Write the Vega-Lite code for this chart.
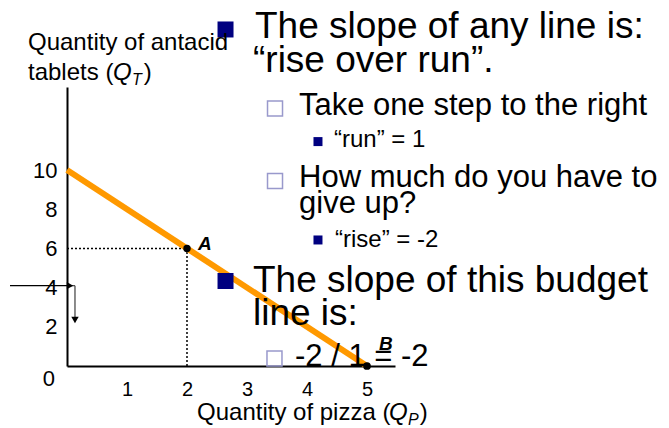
{
  "$schema": "https://vega.github.io/schema/vega-lite/v6.json",
  "width": 328,
  "height": 279,
  "autosize": {"type": "none"},
  "padding": {"left": 67, "top": 87, "right": 274, "bottom": 62},
  "background": "white",
  "config": {
    "view": {"stroke": null},
    "font": "Liberation Sans",
    "text": {"font": "Liberation Sans", "color": "black", "baseline": "alphabetic", "align": "left"}
  },
  "datasets": {
    "guides": [
      {"x": 0, "x2": 2, "y": 6, "y2": 6},
      {"x": 2, "x2": 2, "y": 0, "y2": 6}
    ],
    "budget": [
      {"x": 0, "y": 10},
      {"x": 5, "y": 0}
    ],
    "shiftArrow": [
      {"x": -0.95, "x2": 0.0, "y": 4.1, "y2": 4.1}
    ],
    "dropArrow": [
      {"x": 0.03, "x2": 0.133, "y": 4.1, "y2": 4.1},
      {"x": 0.133, "x2": 0.133, "y": 4.1, "y2": 2.5}
    ],
    "shiftHead": [{"x": 0.05, "y": 4.1}],
    "dropHead": [{"x": 0.133, "y": 2.35}],
    "bundleA": [{"x": 2, "y": 6, "label": "A"}],
    "bundleB": [{"x": 5, "y": 0, "label": "B"}],
    "bullets1": [
      {"x": 2.642, "y": 17.17},
      {"x": 2.642, "y": 4.337}
    ],
    "bullets2": [
      {"x": 3.467, "y": 13.14},
      {"x": 3.467, "y": 9.44},
      {"x": 3.458, "y": 0.383}
    ],
    "bullets3": [
      {"x": 4.183, "y": 11.45},
      {"x": 4.183, "y": 6.43}
    ],
    "text1": [
      {"x": 3.133, "y": 16.73, "t": "The slope of any line is:"},
      {"x": 3.1, "y": 15.0, "t": "“rise over run”."},
      {"x": 3.1, "y": 3.776, "t": "The slope of this budget"},
      {"x": 3.1, "y": 2.092, "t": "line is:"}
    ],
    "text2": [
      {"x": 3.867, "y": 12.81, "t": "Take one step to the right"},
      {"x": 3.867, "y": 9.133, "t": "How much do you have to"},
      {"x": 3.867, "y": 7.806, "t": "give up?"},
      {"x": 3.8, "y": 0.0, "t": "-2 / 1 = -2"}
    ],
    "text3": [
      {"x": 4.45, "y": 11.17, "t": "“run” = 1"},
      {"x": 4.467, "y": 6.07, "t": "“rise” = -2"}
    ],
    "titlePlain": [
      {"x": -0.65, "y": 16.12, "t": "Quantity of antacid"},
      {"x": -0.65, "y": 14.59, "t": "tablets ("},
      {"x": 1.28, "y": 14.59, "t": ")"},
      {"x": 2.167, "y": -2.755, "t": "Quantity of pizza ("},
      {"x": 5.88, "y": -2.755, "t": ")"}
    ],
    "titleQ": [
      {"x": 0.767, "y": 14.59, "t": "Q"},
      {"x": 5.367, "y": -2.755, "t": "Q"}
    ],
    "titleSub": [
      {"x": 1.083, "y": 14.34, "t": "T"},
      {"x": 5.683, "y": -3.0, "t": "P"}
    ],
    "origin": [{"x": 0, "y": 0, "t": "0"}]
  },
  "encoding": {
    "x": {
      "field": "x",
      "type": "quantitative",
      "scale": {"domain": [0, 5.4667], "nice": false},
      "axis": {
        "values": [1, 2, 3, 4, 5],
        "title": null,
        "grid": false,
        "ticks": false,
        "domainColor": "black",
        "domainWidth": 2,
        "labelColor": "black",
        "labelFont": "Liberation Sans",
        "labelFontSize": 20,
        "labelPadding": 13
      }
    },
    "y": {
      "field": "y",
      "type": "quantitative",
      "scale": {"domain": [0, 14.235], "nice": false},
      "axis": {
        "values": [2, 4, 6, 8, 10],
        "title": null,
        "grid": false,
        "ticks": false,
        "domainColor": "black",
        "domainWidth": 2,
        "labelColor": "black",
        "labelFont": "Liberation Sans",
        "labelFontSize": 22,
        "labelPadding": 10
      }
    }
  },
  "layer": [
    {
      "data": {"name": "guides"},
      "mark": {"type": "rule", "color": "black", "strokeWidth": 1.5, "strokeDash": [2, 2]},
      "encoding": {"x2": {"field": "x2"}, "y2": {"field": "y2"}}
    },
    {
      "data": {"name": "budget"},
      "mark": {"type": "line", "color": "#FF9900", "strokeWidth": 6, "strokeCap": "butt"},
      "encoding": {}
    },
    {
      "data": {"name": "shiftArrow"},
      "mark": {"type": "rule", "color": "black", "strokeWidth": 1.3},
      "encoding": {"x2": {"field": "x2"}, "y2": {"field": "y2"}}
    },
    {
      "data": {"name": "dropArrow"},
      "mark": {"type": "rule", "color": "#4d4d4d", "strokeWidth": 1.3},
      "encoding": {"x2": {"field": "x2"}, "y2": {"field": "y2"}}
    },
    {
      "data": {"name": "shiftHead"},
      "mark": {"type": "point", "shape": "triangle-right", "filled": true, "color": "black", "size": 55, "opacity": 1},
      "encoding": {}
    },
    {
      "data": {"name": "dropHead"},
      "mark": {"type": "point", "shape": "triangle-down", "filled": true, "color": "black", "size": 55, "opacity": 1},
      "encoding": {}
    },
    {
      "data": {"name": "bundleA"},
      "mark": {"type": "circle", "color": "black", "size": 55, "opacity": 1},
      "encoding": {}
    },
    {
      "data": {"name": "bundleB"},
      "mark": {"type": "circle", "color": "black", "size": 60, "opacity": 1},
      "encoding": {}
    },
    {
      "data": {"name": "bullets1"},
      "mark": {"type": "square", "color": "#000080", "size": 256, "opacity": 1},
      "encoding": {}
    },
    {
      "data": {"name": "bullets2"},
      "mark": {"type": "point", "shape": "square", "filled": false, "color": "#9999CC", "strokeWidth": 1.5, "size": 225, "opacity": 1},
      "encoding": {}
    },
    {
      "data": {"name": "bullets3"},
      "mark": {"type": "square", "color": "#000080", "size": 81, "opacity": 1},
      "encoding": {}
    },
    {
      "data": {"name": "text1"},
      "mark": {"type": "text", "fontSize": 37},
      "encoding": {"text": {"field": "t"}}
    },
    {
      "data": {"name": "text2"},
      "mark": {"type": "text", "fontSize": 31},
      "encoding": {"text": {"field": "t"}}
    },
    {
      "data": {"name": "text3"},
      "mark": {"type": "text", "fontSize": 24},
      "encoding": {"text": {"field": "t"}}
    },
    {
      "data": {"name": "bundleA"},
      "mark": {"type": "text", "fontSize": 19, "fontWeight": "bold", "fontStyle": "italic", "dx": 11, "dy": 2},
      "encoding": {"text": {"field": "label"}}
    },
    {
      "data": {"name": "bundleB"},
      "mark": {"type": "text", "fontSize": 19, "fontWeight": "bold", "fontStyle": "italic", "dx": 12, "dy": -16},
      "encoding": {"text": {"field": "label"}}
    },
    {
      "data": {"name": "titlePlain"},
      "mark": {"type": "text", "fontSize": 24},
      "encoding": {"text": {"field": "t"}}
    },
    {
      "data": {"name": "titleQ"},
      "mark": {"type": "text", "fontSize": 24, "fontStyle": "italic"},
      "encoding": {"text": {"field": "t"}}
    },
    {
      "data": {"name": "titleSub"},
      "mark": {"type": "text", "fontSize": 16, "fontStyle": "italic"},
      "encoding": {"text": {"field": "t"}}
    },
    {
      "data": {"name": "origin"},
      "mark": {"type": "text", "fontSize": 22, "align": "right", "dx": -12, "dy": 20},
      "encoding": {"text": {"field": "t"}}
    }
  ]
}
